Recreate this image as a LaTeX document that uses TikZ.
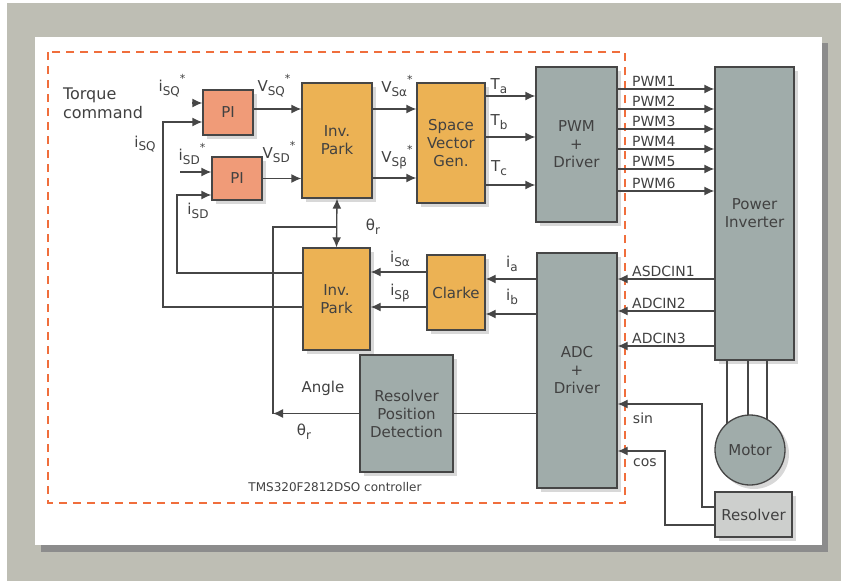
\documentclass[tikz,border=0pt]{standalone}
\usepackage{fontspec}
\setmainfont{DejaVu Sans}
\usepackage{xcolor}
\usepackage{tikz}
\usetikzlibrary{arrows.meta, shadows, positioning}

\definecolor{bggray}{RGB}{190,190,180}
\definecolor{panelshadow}{RGB}{140,140,140}
\definecolor{dashorange}{RGB}{240,110,60}
\definecolor{pifill}{RGB}{240,155,120}
\definecolor{parkfill}{RGB}{236,178,84}
\definecolor{grayfill}{RGB}{160,172,170}
\definecolor{resfill}{RGB}{205,207,205}
\definecolor{wirecol}{RGB}{70,70,70}
\definecolor{textcol}{RGB}{65,65,65}

% sinais com indice
\newcommand{\sig}[2]{#1\raisebox{-0.45ex}{\fontsize{12}{12}\selectfont #2}}
\newcommand{\sigs}[2]{#1\raisebox{-0.45ex}{\fontsize{12}{12}\selectfont #2}\raisebox{1.1ex}{\fontsize{11}{11}\selectfont *}}

\begin{document}
\begin{tikzpicture}[x=1pt, y=-1pt, font=\fontsize{15}{18}\selectfont, text=textcol,
    block/.style={draw=wirecol, line width=1.3pt, align=center, inner sep=2pt,
        drop shadow={opacity=0.3, shadow xshift=4pt, shadow yshift=-4pt}},
    piblock/.style={block, fill=pifill},
    parkblock/.style={block, fill=parkfill},
    grayblock/.style={block, fill=grayfill},
    wire/.style={draw=wirecol, line width=1.3pt},
    arr/.style={wire, -{Latex[length=10pt, width=9pt]}},
    lbl/.style={inner sep=1pt},
    small/.style={font=\fontsize{14}{16}\selectfont}]
        \useasboundingbox (0,0) rectangle (841,581);
        % Fundo
        \fill[bggray] (7,3) rectangle (841,581);
        \fill[panelshadow] (41,43) rectangle (828,552);
        \fill[white] (35,37) rectangle (822,545);
        \draw[dashorange, line width=2.5pt, dash pattern=on 8pt off 6pt] (48,52) rectangle (625,503);

        % Blocos do controlador
        \node[piblock, minimum width=50pt, minimum height=45pt] (pi1) at (228,112.5) {PI};
        \node[piblock, minimum width=50pt, minimum height=43pt] (pi2) at (237,178.5) {PI};
        \node[parkblock, minimum width=70pt, minimum height=115pt] (park1) at (337,140.5) {Inv.\\Park};
        \node[parkblock, minimum width=68pt, minimum height=120pt] (svg) at (451,143) {Space\\Vector\\Gen.};
        \node[grayblock, minimum width=81pt, minimum height=155pt] (pwm) at (576.5,144.5) {PWM\\+\\Driver};
        \node[parkblock, minimum width=67pt, minimum height=102pt] (park2) at (336.5,299) {Inv.\\Park};
        \node[parkblock, minimum width=58pt, minimum height=75pt] (clarke) at (456,292.5) {Clarke};
        \node[grayblock, minimum width=80pt, minimum height=235pt] (adc) at (577,370.5) {ADC\\+\\Driver};
        \node[grayblock, minimum width=93pt, minimum height=117pt] (rpd) at (406.5,413.5) {Resolver\\Position\\Detection};

        % Planta
        \node[grayblock, minimum width=79pt, minimum height=293pt] (inv) at (754.5,213.5) {Power\\Inverter};
        \node[grayblock, circle, minimum size=70pt] (motor) at (750,450) {Motor};
        \node[block, fill=resfill, minimum width=77pt, minimum height=45pt] (res) at (753.5,514.5) {Resolver};

        % Textos
        \node[align=left, font=\fontsize{16}{19}\selectfont] (torque) at (103,103) {Torque\\command};
        \node[font=\fontsize{12}{14}\selectfont] (ctrl) at (335,487) {TMS320F2812DSO controller};

        % Entradas dos PI
        \coordinate (sq) at (192,103);
        \coordinate (sd) at (180,172);
        \draw[arr] (sq) -- (sq -| pi1.west);
        \draw[arr] (sd) -- (sd -| pi2.west);
        \coordinate (fbq) at (163,307);
        \coordinate (fbd) at (177,273);
        \draw[arr] (park2.west |- fbq) -- (fbq) |- (pi1.west |- 0,122);
        \draw[arr] (park2.west |- fbd) -- (fbd) |- (pi2.west |- 0,195);
        \node[lbl] (lisqs) at (172,86) {\sigs{i}{SQ}};
        \node[lbl] (lisq) at (145,144) {\sig{i}{SQ}};
        \node[lbl] (lisds) at (192,154) {\sigs{i}{SD}};
        \node[lbl] (lisd) at (198,211) {\sig{i}{SD}};

        % Tensoes
        \draw[arr] (pi1.east |- 0,109) -- (park1.west |- 0,109);
        \draw[arr] (pi2.east) -- (pi2.east -| park1.west);
        \draw[arr] (park1.east |- 0,109) -- (svg.west |- 0,109);
        \draw[arr] (park1.east |- 0,178) -- (svg.west |- 0,178);
        \node[lbl] (lvsq) at (274,86) {\sigs{V}{SQ}};
        \node[lbl] (lvsd) at (279,152) {\sigs{V}{SD}};
        \node[lbl] (lvsa) at (397,86) {\sigs{V}{Sα}};
        \node[lbl] (lvsb) at (397,157) {\sigs{V}{Sβ}};

        % Tempos
        \foreach \y in {96, 137, 185}
            \draw[arr] (svg.east |- 0,\y) -- (pwm.west |- 0,\y);
        \node[lbl] (lta) at (499,86) {\sig{T}{a}};
        \node[lbl] (ltb) at (499,122) {\sig{T}{b}};
        \node[lbl] (ltc) at (499,168) {\sig{T}{c}};

        % PWM
        \foreach \k/\y in {1/89, 2/109, 3/129, 4/149, 5/169, 6/191} {
            \draw[arr] (pwm.east |- 0,\y) -- (inv.west |- 0,\y);
            \node[lbl, small, anchor=south west] (lpwm\k) at (631,\y-1) {PWM\k};
        }

        % ADC
        \foreach \k/\y/\t in {1/279/ASDCIN1, 2/311/ADCIN2, 3/346/ADCIN3} {
            \draw[arr] (inv.west |- 0,\y) -- (adc.east |- 0,\y);
            \node[lbl, small, anchor=south west] (ladc\k) at (631,\y-1) {\t};
        }

        % Clarke
        \draw[arr] (clarke.west |- 0,272) -- (park2.east |- 0,272);
        \draw[arr] (clarke.west |- 0,307) -- (park2.east |- 0,307);
        \draw[arr] (adc.west |- 0,279) -- (clarke.east |- 0,279);
        \draw[arr] (adc.west |- 0,314) -- (clarke.east |- 0,314);
        \node[lbl] (lisa) at (400,259) {\sig{i}{Sα}};
        \node[lbl] (lisb) at (400,293) {\sig{i}{Sβ}};
        \node[lbl] (lia) at (512,264) {\sig{i}{a}};
        \node[lbl] (lib) at (512,297) {\sig{i}{b}};

        % Angulo
        \coordinate (jn) at (337,227);
        \coordinate (ang) at (273,413.5);
        \draw[wire, {Latex[length=10pt, width=9pt]}-{Latex[length=10pt, width=9pt]}] (park1.south) -- (park2.north);
        \draw[arr] (rpd.west) -- (ang);
        \draw[wire] (ang) |- (jn);
        \draw[wire] (rpd.east) -- (adc.west |- rpd.east);
        \node[lbl] (lth1) at (373,227) {\sig{θ}{r}};
        \node[lbl] (langle) at (323,388) {Angle};
        \node[lbl] (lth2) at (304,432) {\sig{θ}{r}};

        % Resolver
        \coordinate (sinx) at (702,404);
        \coordinate (cosx) at (665,451);
        \draw[arr] (res.west |- 0,507) -| (sinx) -- (adc.east |- sinx);
        \draw[arr] (res.west |- 0,525) -| (cosx) -- (adc.east |- cosx);
        \node[lbl, small] (lsin) at (643,418) {sin};
        \node[lbl, small] (lcos) at (645,463) {cos};

        % Motor
        \foreach \x/\y in {727/424, 748/415, 767/420}
            \draw[wire] (inv.south -| \x,0) -- (\x,\y);
    \end{tikzpicture}
\end{document}
